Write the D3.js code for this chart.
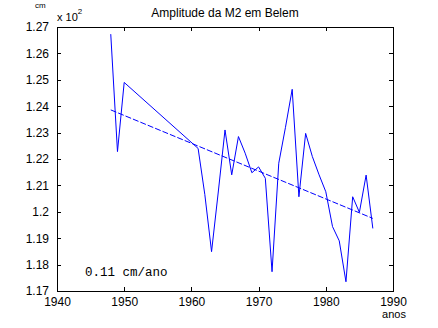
<!DOCTYPE html>
<html>
<head>
<meta charset="utf-8">
<script src="https://cdn.jsdelivr.net/npm/d3@7"></script>
<style>
  html, body { margin: 0; padding: 0; background: #fff; }
  svg { display: block; }
</style>
</head>
<body>
<svg id="chart" width="438" height="328"></svg>
<script>
// ---- data ----
const years = [1948, 1949, 1950, 1961, 1962, 1963, 1964, 1965, 1966, 1967, 1968, 1969, 1970, 1971,
               1972, 1973, 1974, 1975, 1976, 1977, 1978, 1979, 1980, 1981, 1982, 1983, 1984, 1985, 1986, 1987];
const amplitude = [1.2673, 1.2228, 1.2490, 1.2240, 1.2065, 1.1849, 1.2075, 1.2310, 1.2140, 1.2285, 1.2222, 1.2148, 1.2170, 1.2127,
                   1.1773, 1.2184, 1.2320, 1.2464, 1.2057, 1.2297, 1.2209, 1.2140, 1.2076, 1.1944, 1.1890, 1.1735, 1.2057, 1.1998, 1.2139, 1.1937];
const trendYears = [1948, 1987];
const trendValues = [1.2386, 1.1975];
const xTicks = [1940, 1950, 1960, 1970, 1980, 1990];
const yTicks = [1.17, 1.18, 1.19, 1.20, 1.21, 1.22, 1.23, 1.24, 1.25, 1.26, 1.27];
const yTickLabels = ["1.17", "1.18", "1.19", "1.2", "1.21", "1.22", "1.23", "1.24", "1.25", "1.26", "1.27"];
const titleText = "Amplitude da M2 em Belem";
const xLabel = "anos";
const yUnit = "cm";
const slopeText = "0.11 cm/ano";

// ---- layout ----
const L = 57, R = 393, T = 27, B = 291;
const SANS = "'Liberation Sans', Arial, sans-serif";
const MONO = "'Liberation Mono', 'Courier New', monospace";
const svg = d3.select("#chart");
const x = d3.scaleLinear().domain([1940, 1990]).range([L, R]);
const y = d3.scaleLinear().domain([1.17, 1.27]).range([B, T]);
const tickLen = 4;

// box
svg.append("rect").attr("x", L + 0.5).attr("y", T + 0.5)
  .attr("width", R - L).attr("height", B - T)
  .attr("fill", "none").attr("stroke", "#000").attr("stroke-width", 1)
  .attr("shape-rendering", "crispEdges");

// axes via d3 axis (inward ticks)
const xAxisB = d3.axisBottom(x).tickValues(xTicks).tickSizeInner(-tickLen).tickSizeOuter(0).tickPadding(6).tickFormat(d3.format("d"));
const xAxisT = d3.axisTop(x).tickValues(xTicks).tickSizeInner(-tickLen).tickSizeOuter(0).tickFormat("");
const yAxisL = d3.axisLeft(y).tickValues(yTicks).tickSizeInner(-tickLen).tickSizeOuter(0).tickPadding(8)
  .tickFormat((d, i) => yTickLabels[i]);
const yAxisR = d3.axisRight(y).tickValues(yTicks).tickSizeInner(-tickLen).tickSizeOuter(0).tickFormat("");

function styleAxis(g) {
  g.select(".domain").remove();
  g.selectAll(".tick line").attr("stroke", "#000").attr("shape-rendering", "crispEdges");
  g.selectAll("text").style("font-size", "12px").style("font-family", SANS).attr("fill", "#000");
}
svg.append("g").attr("transform", `translate(0,${B})`).call(xAxisB).call(styleAxis);
svg.append("g").attr("transform", `translate(0,${T})`).call(xAxisT).call(styleAxis);
svg.append("g").attr("transform", `translate(${L},0)`).call(yAxisL).call(styleAxis);
svg.append("g").attr("transform", `translate(${R},0)`).call(yAxisR).call(styleAxis);

// data line
const line = d3.line().x(d => x(d[0])).y(d => y(d[1]));
svg.append("path")
  .datum(years.map((yr, i) => [yr, amplitude[i]]))
  .attr("d", line)
  .attr("fill", "none").attr("stroke", "#0000ff").attr("stroke-width", 1);

// trend line
svg.append("path")
  .datum(trendYears.map((yr, i) => [yr, trendValues[i]]))
  .attr("d", line)
  .attr("fill", "none").attr("stroke", "#0000ff").attr("stroke-width", 1)
  .attr("stroke-dasharray", "6,2");

// title
svg.append("text").attr("x", (L + R) / 2).attr("y", 17)
  .attr("text-anchor", "middle").style("font-family", SANS).style("font-size", "12px").text(titleText);

// x label
svg.append("text").attr("x", R + 1).attr("y", 318)
  .attr("text-anchor", "middle").style("font-family", SANS).style("font-size", "11px").text(xLabel);

// unit label and exponent
svg.append("text").attr("x", 35).attr("y", 8)
  .style("font-family", SANS).style("font-size", "8px").text(yUnit);
const ex = svg.append("text").attr("x", 57).attr("y", 21).style("font-family", SANS).style("font-size", "11px");
ex.append("tspan").text("x 10");
ex.append("tspan").attr("dy", -7).style("font-size", "8px").text("2");

// slope annotation
svg.append("text").attr("x", 85).attr("y", 276)
  .style("font-family", MONO).style("font-size", "12.5px").text(slopeText);
</script>
</body>
</html>
